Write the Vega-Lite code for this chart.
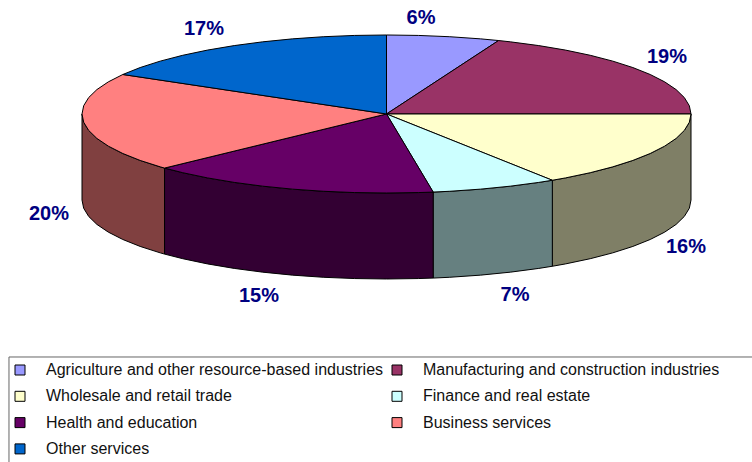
{
  "$schema": "https://vega.github.io/schema/vega-lite/v6.json",
  "width": 752,
  "height": 462,
  "padding": 0,
  "autosize": {"type": "none"},
  "background": "white",
  "view": {"stroke": null},
  "config": {"font": "Liberation Sans"},
  "datasets": {
    "frame": [{"x0": -1.2398, "x1": 1.30, "y0": -3.0759, "y1": -4.50}],
    "labels": [
      {"slice": "Agriculture and other resource-based industries", "share": 0.06, "lx": 0.1133, "ly": 1.2152},
      {"slice": "Manufacturing and construction industries", "share": 0.19, "lx": 0.9212, "ly": 0.7215},
      {"slice": "Wholesale and retail trade", "share": 0.1583, "lx": 0.9836, "ly": -1.6835},
      {"slice": "Finance and real estate", "share": 0.0672, "lx": 0.4220, "ly": -2.2911},
      {"slice": "Health and education", "share": 0.1545, "lx": -0.4187, "ly": -2.3038},
      {"slice": "Business services", "share": 0.2033, "lx": -1.1084, "ly": -1.2658},
      {"slice": "Other services", "share": 0.1667, "lx": -0.5993, "ly": 1.0759}
    ],
    "walls": [
      {"slice": "Wholesale and retail trade", "ex": 1, "top": 0, "base": -1.0886},
      {"slice": "Wholesale and retail trade", "ex": 0.9945, "top": -0.1045, "base": -1.1931},
      {"slice": "Wholesale and retail trade", "ex": 0.9781, "top": -0.2079, "base": -1.2965},
      {"slice": "Wholesale and retail trade", "ex": 0.9511, "top": -0.3090, "base": -1.3976},
      {"slice": "Wholesale and retail trade", "ex": 0.9135, "top": -0.4067, "base": -1.4953},
      {"slice": "Wholesale and retail trade", "ex": 0.8660, "top": -0.5, "base": -1.5886},
      {"slice": "Wholesale and retail trade", "ex": 0.8090, "top": -0.5878, "base": -1.6764},
      {"slice": "Wholesale and retail trade", "ex": 0.7431, "top": -0.6691, "base": -1.7577},
      {"slice": "Wholesale and retail trade", "ex": 0.6691, "top": -0.7431, "base": -1.8317},
      {"slice": "Wholesale and retail trade", "ex": 0.5878, "top": -0.8090, "base": -1.8976},
      {"slice": "Wholesale and retail trade", "ex": 0.5446, "top": -0.8387, "base": -1.9273},
      {"slice": "Finance and real estate", "ex": 0.5446, "top": -0.8387, "base": -1.9273},
      {"slice": "Finance and real estate", "ex": 0.5, "top": -0.8660, "base": -1.9546},
      {"slice": "Finance and real estate", "ex": 0.4067, "top": -0.9135, "base": -2.0021},
      {"slice": "Finance and real estate", "ex": 0.3090, "top": -0.9511, "base": -2.0397},
      {"slice": "Finance and real estate", "ex": 0.2079, "top": -0.9781, "base": -2.0667},
      {"slice": "Finance and real estate", "ex": 0.1533, "top": -0.9882, "base": -2.0768},
      {"slice": "Health and education", "ex": 0.1533, "top": -0.9882, "base": -2.0768},
      {"slice": "Health and education", "ex": 0.1045, "top": -0.9945, "base": -2.0831},
      {"slice": "Health and education", "ex": 0, "top": -1, "base": -2.0886},
      {"slice": "Health and education", "ex": -0.1045, "top": -0.9945, "base": -2.0831},
      {"slice": "Health and education", "ex": -0.2079, "top": -0.9781, "base": -2.0667},
      {"slice": "Health and education", "ex": -0.3090, "top": -0.9511, "base": -2.0397},
      {"slice": "Health and education", "ex": -0.4067, "top": -0.9135, "base": -2.0021},
      {"slice": "Health and education", "ex": -0.5, "top": -0.8660, "base": -1.9546},
      {"slice": "Health and education", "ex": -0.5878, "top": -0.8090, "base": -1.8976},
      {"slice": "Health and education", "ex": -0.6691, "top": -0.7431, "base": -1.8317},
      {"slice": "Health and education", "ex": -0.7290, "top": -0.6845, "base": -1.7731},
      {"slice": "Business services", "ex": -0.7290, "top": -0.6845, "base": -1.7731},
      {"slice": "Business services", "ex": -0.7431, "top": -0.6691, "base": -1.7577},
      {"slice": "Business services", "ex": -0.8090, "top": -0.5878, "base": -1.6764},
      {"slice": "Business services", "ex": -0.8660, "top": -0.5, "base": -1.5886},
      {"slice": "Business services", "ex": -0.9135, "top": -0.4067, "base": -1.4953},
      {"slice": "Business services", "ex": -0.9511, "top": -0.3090, "base": -1.3976},
      {"slice": "Business services", "ex": -0.9781, "top": -0.2079, "base": -1.2965},
      {"slice": "Business services", "ex": -0.9945, "top": -0.1045, "base": -1.1931},
      {"slice": "Business services", "ex": -1, "top": 0, "base": -1.0886}
    ],
    "slices": [
      {"slice": "Agriculture and other resource-based industries", "k": 0, "ex": 0, "ey": 0},
      {"slice": "Agriculture and other resource-based industries", "k": 1, "ex": 0, "ey": 1},
      {"slice": "Agriculture and other resource-based industries", "k": 2, "ex": 0.1045, "ey": 0.9945},
      {"slice": "Agriculture and other resource-based industries", "k": 3, "ex": 0.2079, "ey": 0.9781},
      {"slice": "Agriculture and other resource-based industries", "k": 4, "ex": 0.3090, "ey": 0.9511},
      {"slice": "Agriculture and other resource-based industries", "k": 5, "ex": 0.3681, "ey": 0.9298},

      {"slice": "Manufacturing and construction industries", "k": 0, "ex": 0, "ey": 0},
      {"slice": "Manufacturing and construction industries", "k": 1, "ex": 0.3681, "ey": 0.9298},
      {"slice": "Manufacturing and construction industries", "k": 2, "ex": 0.4067, "ey": 0.9135},
      {"slice": "Manufacturing and construction industries", "k": 3, "ex": 0.5, "ey": 0.8660},
      {"slice": "Manufacturing and construction industries", "k": 4, "ex": 0.5878, "ey": 0.8090},
      {"slice": "Manufacturing and construction industries", "k": 5, "ex": 0.6691, "ey": 0.7431},
      {"slice": "Manufacturing and construction industries", "k": 6, "ex": 0.7431, "ey": 0.6691},
      {"slice": "Manufacturing and construction industries", "k": 7, "ex": 0.8090, "ey": 0.5878},
      {"slice": "Manufacturing and construction industries", "k": 8, "ex": 0.8660, "ey": 0.5},
      {"slice": "Manufacturing and construction industries", "k": 9, "ex": 0.9135, "ey": 0.4067},
      {"slice": "Manufacturing and construction industries", "k": 10, "ex": 0.9511, "ey": 0.3090},
      {"slice": "Manufacturing and construction industries", "k": 11, "ex": 0.9781, "ey": 0.2079},
      {"slice": "Manufacturing and construction industries", "k": 12, "ex": 0.9945, "ey": 0.1045},
      {"slice": "Manufacturing and construction industries", "k": 13, "ex": 1, "ey": 0},

      {"slice": "Wholesale and retail trade", "k": 0, "ex": 0, "ey": 0},
      {"slice": "Wholesale and retail trade", "k": 1, "ex": 1, "ey": 0},
      {"slice": "Wholesale and retail trade", "k": 2, "ex": 0.9945, "ey": -0.1045},
      {"slice": "Wholesale and retail trade", "k": 3, "ex": 0.9781, "ey": -0.2079},
      {"slice": "Wholesale and retail trade", "k": 4, "ex": 0.9511, "ey": -0.3090},
      {"slice": "Wholesale and retail trade", "k": 5, "ex": 0.9135, "ey": -0.4067},
      {"slice": "Wholesale and retail trade", "k": 6, "ex": 0.8660, "ey": -0.5},
      {"slice": "Wholesale and retail trade", "k": 7, "ex": 0.8090, "ey": -0.5878},
      {"slice": "Wholesale and retail trade", "k": 8, "ex": 0.7431, "ey": -0.6691},
      {"slice": "Wholesale and retail trade", "k": 9, "ex": 0.6691, "ey": -0.7431},
      {"slice": "Wholesale and retail trade", "k": 10, "ex": 0.5878, "ey": -0.8090},
      {"slice": "Wholesale and retail trade", "k": 11, "ex": 0.5446, "ey": -0.8387},

      {"slice": "Finance and real estate", "k": 0, "ex": 0, "ey": 0},
      {"slice": "Finance and real estate", "k": 1, "ex": 0.5446, "ey": -0.8387},
      {"slice": "Finance and real estate", "k": 2, "ex": 0.5, "ey": -0.8660},
      {"slice": "Finance and real estate", "k": 3, "ex": 0.4067, "ey": -0.9135},
      {"slice": "Finance and real estate", "k": 4, "ex": 0.3090, "ey": -0.9511},
      {"slice": "Finance and real estate", "k": 5, "ex": 0.2079, "ey": -0.9781},
      {"slice": "Finance and real estate", "k": 6, "ex": 0.1533, "ey": -0.9882},

      {"slice": "Health and education", "k": 0, "ex": 0, "ey": 0},
      {"slice": "Health and education", "k": 1, "ex": 0.1533, "ey": -0.9882},
      {"slice": "Health and education", "k": 2, "ex": 0.1045, "ey": -0.9945},
      {"slice": "Health and education", "k": 3, "ex": 0, "ey": -1},
      {"slice": "Health and education", "k": 4, "ex": -0.1045, "ey": -0.9945},
      {"slice": "Health and education", "k": 5, "ex": -0.2079, "ey": -0.9781},
      {"slice": "Health and education", "k": 6, "ex": -0.3090, "ey": -0.9511},
      {"slice": "Health and education", "k": 7, "ex": -0.4067, "ey": -0.9135},
      {"slice": "Health and education", "k": 8, "ex": -0.5, "ey": -0.8660},
      {"slice": "Health and education", "k": 9, "ex": -0.5878, "ey": -0.8090},
      {"slice": "Health and education", "k": 10, "ex": -0.6691, "ey": -0.7431},
      {"slice": "Health and education", "k": 11, "ex": -0.7290, "ey": -0.6845},

      {"slice": "Business services", "k": 0, "ex": 0, "ey": 0},
      {"slice": "Business services", "k": 1, "ex": -0.7290, "ey": -0.6845},
      {"slice": "Business services", "k": 2, "ex": -0.7431, "ey": -0.6691},
      {"slice": "Business services", "k": 3, "ex": -0.8090, "ey": -0.5878},
      {"slice": "Business services", "k": 4, "ex": -0.8660, "ey": -0.5},
      {"slice": "Business services", "k": 5, "ex": -0.9135, "ey": -0.4067},
      {"slice": "Business services", "k": 6, "ex": -0.9511, "ey": -0.3090},
      {"slice": "Business services", "k": 7, "ex": -0.9781, "ey": -0.2079},
      {"slice": "Business services", "k": 8, "ex": -0.9945, "ey": -0.1045},
      {"slice": "Business services", "k": 9, "ex": -1, "ey": 0},
      {"slice": "Business services", "k": 10, "ex": -0.9945, "ey": 0.1045},
      {"slice": "Business services", "k": 11, "ex": -0.9781, "ey": 0.2079},
      {"slice": "Business services", "k": 12, "ex": -0.9511, "ey": 0.3090},
      {"slice": "Business services", "k": 13, "ex": -0.9135, "ey": 0.4067},
      {"slice": "Business services", "k": 14, "ex": -0.8660, "ey": 0.5},

      {"slice": "Other services", "k": 0, "ex": 0, "ey": 0},
      {"slice": "Other services", "k": 1, "ex": -0.8660, "ey": 0.5},
      {"slice": "Other services", "k": 2, "ex": -0.8090, "ey": 0.5878},
      {"slice": "Other services", "k": 3, "ex": -0.7431, "ey": 0.6691},
      {"slice": "Other services", "k": 4, "ex": -0.6691, "ey": 0.7431},
      {"slice": "Other services", "k": 5, "ex": -0.5878, "ey": 0.8090},
      {"slice": "Other services", "k": 6, "ex": -0.5, "ey": 0.8660},
      {"slice": "Other services", "k": 7, "ex": -0.4067, "ey": 0.9135},
      {"slice": "Other services", "k": 8, "ex": -0.3090, "ey": 0.9511},
      {"slice": "Other services", "k": 9, "ex": -0.2079, "ey": 0.9781},
      {"slice": "Other services", "k": 10, "ex": -0.1045, "ey": 0.9945},
      {"slice": "Other services", "k": 11, "ex": 0, "ey": 1}
    ]
  },
  "layer": [
    {
      "data": {"name": "frame"},
      "mark": {"type": "rect", "fill": "white", "stroke": "#666666", "strokeWidth": 1},
      "encoding": {
        "x": {"field": "x0", "type": "quantitative", "axis": null, "scale": {"domain": [-1.2693, 1.2003], "nice": false, "zero": false}},
        "x2": {"field": "x1"},
        "y": {"field": "y0", "type": "quantitative", "axis": null, "scale": {"domain": [-4.4051, 1.4430], "nice": false, "zero": false}},
        "y2": {"field": "y1"}
      }
    },
    {
      "data": {"name": "walls"},
      "mark": {"type": "area", "stroke": "black", "strokeWidth": 1, "opacity": 1},
      "encoding": {
        "x": {"field": "ex", "type": "quantitative", "axis": null, "scale": {"domain": [-1.2693, 1.2003], "nice": false, "zero": false}},
        "y": {"field": "top", "type": "quantitative", "axis": null, "stack": null, "scale": {"domain": [-4.4051, 1.4430], "nice": false, "zero": false}},
        "y2": {"field": "base"},
        "fill": {
          "field": "slice",
          "type": "nominal",
          "legend": null,
          "scale": {
            "domain": ["Wholesale and retail trade", "Finance and real estate", "Health and education", "Business services"],
            "range": ["#7F7F66", "#668080", "#330033", "#804040"]
          }
        }
      }
    },
    {
      "data": {"name": "slices"},
      "mark": {"type": "line", "interpolate": "linear-closed", "stroke": "black", "strokeWidth": 1, "filled": true},
      "encoding": {
        "x": {"field": "ex", "type": "quantitative", "axis": null, "scale": {"domain": [-1.2693, 1.2003], "nice": false, "zero": false}},
        "y": {"field": "ey", "type": "quantitative", "axis": null, "scale": {"domain": [-4.4051, 1.4430], "nice": false, "zero": false}},
        "order": {"field": "k", "type": "quantitative"},
        "fill": {
          "field": "slice",
          "type": "nominal",
          "sort": null,
          "scale": {
            "domain": [
              "Agriculture and other resource-based industries",
              "Manufacturing and construction industries",
              "Wholesale and retail trade",
              "Finance and real estate",
              "Health and education",
              "Business services",
              "Other services"
            ],
            "range": ["#9999FF", "#993366", "#FFFFCC", "#CCFFFF", "#660066", "#FF8080", "#0066CC"]
          },
          "legend": {
            "title": null,
            "orient": "none",
            "legendX": 12,
            "legendY": 362,
            "columns": 2,
            "direction": "horizontal",
            "padding": 0,
            "symbolType": "square",
            "symbolSize": 100,
            "symbolStrokeColor": "black",
            "symbolStrokeWidth": 1,
            "symbolOpacity": 1,
            "labelFont": "Liberation Sans",
            "labelFontSize": 16,
            "labelColor": "#111111",
            "labelLimit": 400,
            "labelOffset": 18,
            "rowPadding": 10.3,
            "columnPadding": 5
          }
        }
      }
    },
    {
      "data": {"name": "labels"},
      "mark": {"type": "text", "font": "Liberation Sans", "fontWeight": "bold", "fontSize": 20, "color": "#000080", "align": "center", "baseline": "middle"},
      "encoding": {
        "x": {"field": "lx", "type": "quantitative", "axis": null, "scale": {"domain": [-1.2693, 1.2003], "nice": false, "zero": false}},
        "y": {"field": "ly", "type": "quantitative", "axis": null, "scale": {"domain": [-4.4051, 1.4430], "nice": false, "zero": false}},
        "text": {"field": "share", "type": "quantitative", "format": ".0%"}
      }
    }
  ],
  "resolve": {"scale": {"fill": "independent"}}
}
